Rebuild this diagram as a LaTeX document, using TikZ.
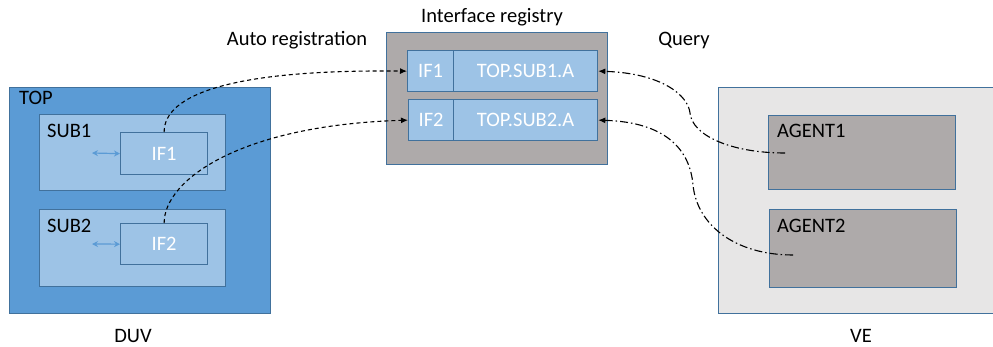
\documentclass[tikz,border=0pt]{standalone}
\usepackage{fontspec}
\setmainfont{Carlito}
\usetikzlibrary{arrows.meta}

\definecolor{topblue}{RGB}{91,155,213}
\definecolor{edgeblue}{RGB}{65,113,156}
\definecolor{paleblue}{RGB}{157,195,230}
\definecolor{regray}{RGB}{174,170,170}
\definecolor{vebg}{RGB}{231,230,230}

\begin{document}
\begin{tikzpicture}[x=1pt,y=-1pt,
  font=\fontsize{20.5}{24}\selectfont,
  blk/.style={draw=edgeblue, line width=1.3pt, inner sep=0pt, anchor=north west},
  ifbox/.style={blk, fill=paleblue, text=white},
  lbl/.style={inner sep=0pt, anchor=base west, text=black},
  caption/.style={inner sep=0pt, anchor=base, text=black},
  portarrow/.style={draw=topblue, line width=1.2pt, {Stealth[length=6pt,width=6pt]}-{Stealth[length=6pt,width=6pt]}},
  regline/.style={line width=1.1pt, dash pattern=on 4pt off 3pt, -{Latex[length=7pt,width=6pt]}},
  queryline/.style={line width=1.1pt, dash pattern=on 8pt off 3pt on 1.5pt off 3pt, -{Latex[length=7pt,width=6pt]}}]
\useasboundingbox (0,0) rectangle (993,347);

% design under verification
\node[blk, fill=topblue, minimum width=261pt, minimum height=226pt] (top) at (9,87) {};
\node[lbl] (toplbl) at (19,105) {TOP};
\node[blk, fill=paleblue, minimum width=186pt, minimum height=76pt] (sub1) at (39,114) {};
\node[lbl] (sub1lbl) at (47,138) {SUB1};
\node[blk, fill=paleblue, minimum width=186pt, minimum height=77pt] (sub2) at (39,209) {};
\node[lbl] (sub2lbl) at (47,233) {SUB2};
\node[ifbox, minimum width=87pt, minimum height=42pt] (if1) at (120,132) {IF1};
\node[ifbox, minimum width=87pt, minimum height=41pt] (if2) at (120,223) {IF2};
\coordinate (p1) at (92,153);
\coordinate (p2) at (92,244);
\draw[portarrow] (p1) -- (if1.west);
\draw[portarrow] (p2) -- (if2.west);
\node[caption] (duv) at (133,342) {DUV};

% interface registry
\node[caption] (reglbl) at (492,23) {Interface registry};
\node[blk, fill=regray, minimum width=221pt, minimum height=132pt] (reg) at (386,32) {};
\node[ifbox, minimum width=46pt, minimum height=41pt] (r1a) at (407,50) {IF1};
\node[ifbox, minimum width=144pt, minimum height=41pt] (r1b) at (453,50) {TOP.SUB1.A};
\node[ifbox, minimum width=45pt, minimum height=41pt] (r2a) at (408,99) {IF2};
\node[ifbox, minimum width=144pt, minimum height=41pt] (r2b) at (453,99) {TOP.SUB2.A};

% verification environment
\node[blk, fill=vebg, minimum width=280pt, minimum height=226pt] (ve) at (718,87) {};
\node[blk, fill=regray, minimum width=187pt, minimum height=74pt] (ag1) at (768,115) {};
\node[lbl] (ag1lbl) at (777,138) {AGENT1};
\node[blk, fill=regray, minimum width=187pt, minimum height=78pt] (ag2) at (769,209) {};
\node[lbl] (ag2lbl) at (777,233) {AGENT2};
\node[caption] (velbl) at (861,342) {VE};

\node[caption] (autolbl) at (297,46) {Auto registration};
\node[caption] (querylbl) at (684,46) {Query};

% registration links
\draw[regline] (if1.north) .. controls +(0,-37) and +(-177,-2) .. (r1a.west);
\draw[regline] (if2.north) .. controls +(0,-43) and +(-168,5) .. (r2a.west);

% query links
\coordinate (q1) at (785,153);
\coordinate (q2) at (793,255);
\draw[queryline] (q1) .. controls +(-55,0) and +(2,22) .. (690,113)
  .. controls +(-2,-18) and +(63,2) .. (r1b.east);
\draw[queryline] (q2) .. controls +(-58,0) and +(4,40) .. (693,185)
  .. controls +(-3,-35) and +(68,2) .. (r2b.east);
\end{tikzpicture}
\end{document}
